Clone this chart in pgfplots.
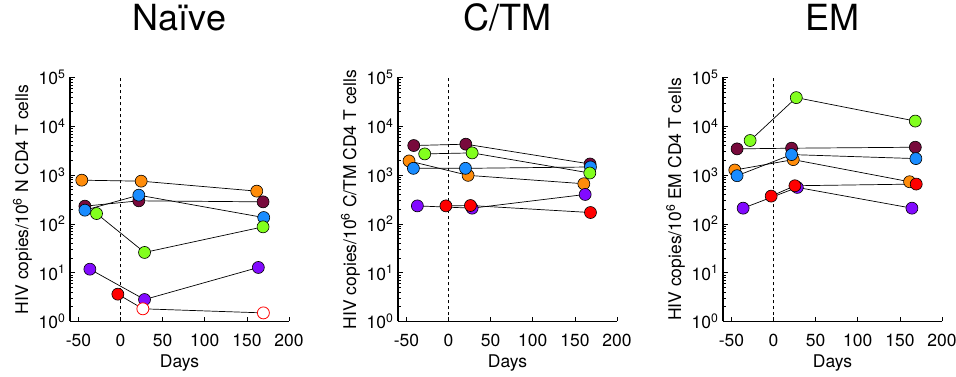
\documentclass[border=0pt]{standalone}
\usepackage{pgfplots}
\pgfplotsset{compat=1.18}
\usepackage{pgfplotstable}
\usepackage{fontspec}
\setmainfont{TeX Gyre Heros}
\definecolor{cOr}{RGB}{255,140,10}
\definecolor{cMa}{RGB}{120,10,60}
\definecolor{cBl}{RGB}{25,140,255}
\definecolor{cGr}{RGB}{130,255,30}
\definecolor{cPu}{RGB}{130,10,255}
\definecolor{cRe}{RGB}{255,0,0}

% Naive
\pgfplotstableread{
xo yo xm ym xb yb xg yg xp yp xr yr
-46.0 787 -42.3 231 -42.3 191 -28.5 163 -36.4 11.8 -3.2 3.63
24.5 751 21.7 297 21.7 388 28.5 26 28.5 2.82 26.5 1.82
161.7 469 169.2 283 170.0 135 169.2 87 163.6 12.8 169.6 1.5
}\tA
% C/TM
\pgfplotstableread{
xo yo xm ym xb yb xg yg xp yp xr yr
-46.9 1950 -41.3 4035 -41.7 1376 -28.3 2717 -37.0 234 -3.1 234
23.2 988 20.5 4300 20.1 1376 28.0 2850 28.0 210 26.0 238
160.6 665 168.0 1690 168.5 1467 167.7 1104 162.2 401 168.5 171
}\tB
% EM
\pgfplotstableread{
xo yo xm ym xb yb xg yg xp yp xr yr
-46.0 1271 -43.3 3445 -43.3 972 -27.8 5114 -36.1 210 -2.8 371
23.4 2075 21.4 3556 21.4 2632 27.0 38700 28.2 559 25.4 605
161.5 731 168.3 3726 169.0 2178 168.3 12800 164.3 210 169.4 655
}\tC

\newcommand{\fs}{\fontsize{17.5}{20}\selectfont}
\pgfplotsset{/pgf/number format/assume math mode=true}
\pgfplotsset{
 myPanel/.style={
  scale only axis, width=219pt, height=244pt, anchor=south west,
  xmin=-60, xmax=200, ymin=1, ymax=100000,
  axis x line*=bottom, axis y line*=left,
  axis line style={line width=1.1pt,-},
  xtick={-50,0,50,100,150,200},
  ytick={1,10,100,1000,10000,100000},
  yticklabels={10\textsuperscript{0},10\textsuperscript{1},10\textsuperscript{2},10\textsuperscript{3},10\textsuperscript{4},10\textsuperscript{5}},
  tick align=inside,
  major tick length=5pt, minor tick length=3pt,
  tick style={black, line width=0.7pt},
  xticklabel style={font=\fs, anchor=base, yshift=-25pt},
  yticklabel style={font=\fs, xshift=-1pt},
  xlabel style={font=\fs, at={(rel axis cs:0.5,0)}, anchor=base, yshift=-46pt},
  ylabel style={font=\fs},
  xlabel=Days,
  title style={font=\fontsize{36}{40}\selectfont, at={(0.5,1)}, anchor=base, yshift=41pt},
  clip=false,
 },
 myLn/.style={black, line width=0.7pt, no marks},
 myMk/.style={only marks, mark=*, mark size=6pt, mark options={draw=black, line width=0.6pt, fill=#1}},
}

\newcommand{\drawpanel}[1]{%
  \addplot[black, dashed, line width=0.7pt] coordinates {(0,1) (0,100000)};
  \addplot[myLn] table[x=xo,y=yo]{#1};
  \addplot[myLn] table[x=xm,y=ym]{#1};
  \addplot[myLn] table[x=xb,y=yb]{#1};
  \addplot[myLn] table[x=xg,y=yg]{#1};
  \addplot[myLn] table[x=xp,y=yp]{#1};
  \addplot[myLn] table[x=xr,y=yr]{#1};
  \addplot[myMk=cOr] table[x=xo,y=yo]{#1};
  \addplot[myMk=cMa] table[x=xm,y=ym]{#1};
  \addplot[myMk=cBl] table[x=xb,y=yb]{#1};
  \addplot[myMk=cGr] table[x=xg,y=yg]{#1};
  \addplot[myMk=cPu] table[x=xp,y=yp]{#1};
}

\begin{document}
\begin{tikzpicture}
\useasboundingbox (0,0) rectangle (956pt,377pt);
\begin{axis}[ymode=log, myPanel, at={(70pt,55.5pt)}, title={Naïve},
  ylabel={HIV copies/10\textsuperscript{6} N CD4 T cells}]
  \drawpanel{\tA}
  \addplot[myMk=cRe, skip coords between index={1}{3}] table[x=xr,y=yr]{\tA};
  \addplot[only marks, mark=*, mark size=6pt, mark options={draw=cRe, line width=0.8pt, fill=white}, skip coords between index={0}{1}] table[x=xr,y=yr]{\tA};
\end{axis}
\begin{axis}[ymode=log, myPanel, at={(398pt,55.5pt)}, title={C/TM},
  ylabel={HIV copies/10\textsuperscript{6} C/TM CD4 T cells}]
  \drawpanel{\tB}
  \addplot[myMk=cRe] table[x=xr,y=yr]{\tB};
\end{axis}
\begin{axis}[ymode=log, myPanel, at={(723pt,55.5pt)}, title={EM},
  ylabel={HIV copies/10\textsuperscript{6} EM CD4 T cells}]
  \drawpanel{\tC}
  \addplot[myMk=cRe] table[x=xr,y=yr]{\tC};
\end{axis}
\end{tikzpicture}
\end{document}
